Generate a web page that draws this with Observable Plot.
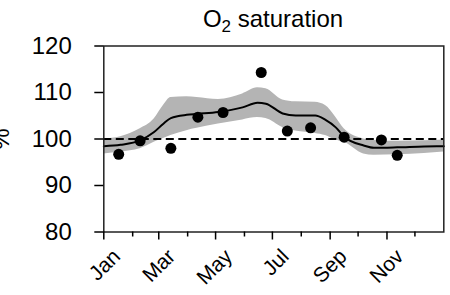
<!DOCTYPE html>
<html><head><meta charset="utf-8">
<script src="https://cdn.jsdelivr.net/npm/d3@7"></script>
<script src="https://cdn.jsdelivr.net/npm/@observablehq/plot@0.6"></script>
<style>
body{margin:0;background:#fff;font-family:"Liberation Sans",Arial,sans-serif;}
#title{width:340px;margin-left:103px;height:30px;line-height:38px;font-size:24px;text-align:center;white-space:nowrap;overflow:visible;}
#title sub{font-size:17px;line-height:0;position:relative;top:5px;vertical-align:baseline;}
svg{overflow:visible;}
</style>
</head><body>
<div id="title">O<sub>2</sub> saturation</div>
<div id="chart"></div>
<script>
// smoothed fit knots
const knotDates = ["2023-01-01","2023-01-19","2023-02-09","2023-02-24","2023-03-06","2023-03-14","2023-03-31","2023-04-11","2023-05-04","2023-05-30","2023-06-15","2023-06-24","2023-07-12","2023-07-26","2023-08-16","2023-08-27","2023-09-07","2023-09-16","2023-10-07","2023-10-18","2023-11-12","2023-12-11","2024-01-01"];
const fitMid = [98.45,98.75,99.7,101.5,103.3,104.5,105.2,105.4,105.8,106.8,107.8,107.6,105.5,105.05,105.05,104.1,102.5,100.5,98.6,98.1,98.2,98.4,98.45];
const fitHi  = [100.0,100.5,102.2,104.3,107.2,108.9,109.1,108.9,108.5,109.7,111.0,110.8,108.4,108.0,107.9,107.2,104.7,102.2,100.0,99.7,99.5,99.6,99.8];
const fitLo  = [96.8,97.2,97.9,99.3,100.1,100.75,101.8,102.3,103.2,104.1,104.6,104.4,102.5,101.7,101.2,100.75,99.8,99.3,96.8,96.5,96.6,96.9,97.2];
// observations
const obsDates = ["2023-01-17","2023-02-09","2023-03-14","2023-04-12","2023-05-09","2023-06-19","2023-07-17","2023-08-11","2023-09-16","2023-10-26","2023-11-12"];
const obsValues = [96.7,99.6,98.0,104.7,105.7,114.3,101.7,102.4,100.4,99.8,96.5];
// axes
const yTicks = [80,90,100,110,120];
const majorTicks = ["2023-01-01","2023-03-01","2023-05-01","2023-07-01","2023-09-01","2023-11-01"];
const minorTicks = ["2023-02-01","2023-04-01","2023-06-01","2023-08-01","2023-10-01","2023-12-01"];
const refLine = [100];

const knots = knotDates.map((d,i)=>({date:new Date(d), mid:fitMid[i], hi:fitHi[i], lo:fitLo[i]}));
const obs = obsDates.map((d,i)=>({date:new Date(d), value:obsValues[i]}));
const major = majorTicks.map(d=>new Date(d));
const minor = minorTicks.map(d=>new Date(d));

const plot = Plot.plot({
  width:450, height:265,
  marginTop:15.5, marginBottom:63.5, marginLeft:103.3, marginRight:6.7,
  style:{fontFamily:'"Liberation Sans",Arial,sans-serif', fontSize:"20px", background:"white", color:"black", overflow:"visible"},
  x:{type:"utc", domain:[new Date("2023-01-01"), new Date("2024-01-01")]},
  y:{domain:[80,120]},
  marks:[
    Plot.areaY(knots,{x:"date", y1:"lo", y2:"hi", fill:"#b4b4b4", curve:"monotone-x"}),
    Plot.ruleY(refLine,{strokeDasharray:"8,4.5", strokeWidth:2, stroke:"black"}),
    Plot.lineY(knots,{x:"date", y:"mid", stroke:"black", strokeWidth:2, curve:"monotone-x"}),
    Plot.dot(obs,{x:"date", y:"value", r:5.5, fill:"black"}),
    Plot.frame({stroke:"#222", strokeWidth:1.5}),
    Plot.axisY({ticks:yTicks, tickSize:9, tickPadding:23, fontSize:24, strokeWidth:1.5, label:"%", labelAnchor:"center", labelOffset:112, labelArrow:"none"}),
    Plot.axisX({ticks:major, tickFormat:()=>"", tickSize:8, strokeWidth:1.5, label:null}),
    Plot.axisX({ticks:major, tickFormat:d3.utcFormat("%b"), tickSize:0, tickPadding:21, dx:13, tickRotate:-45, fontSize:21, label:null}),
    Plot.axisX({ticks:minor, tickFormat:()=>"", tickSize:5, strokeWidth:1.5, label:null})
  ]
});
document.getElementById("chart").appendChild(plot);
</script>
</body></html>
